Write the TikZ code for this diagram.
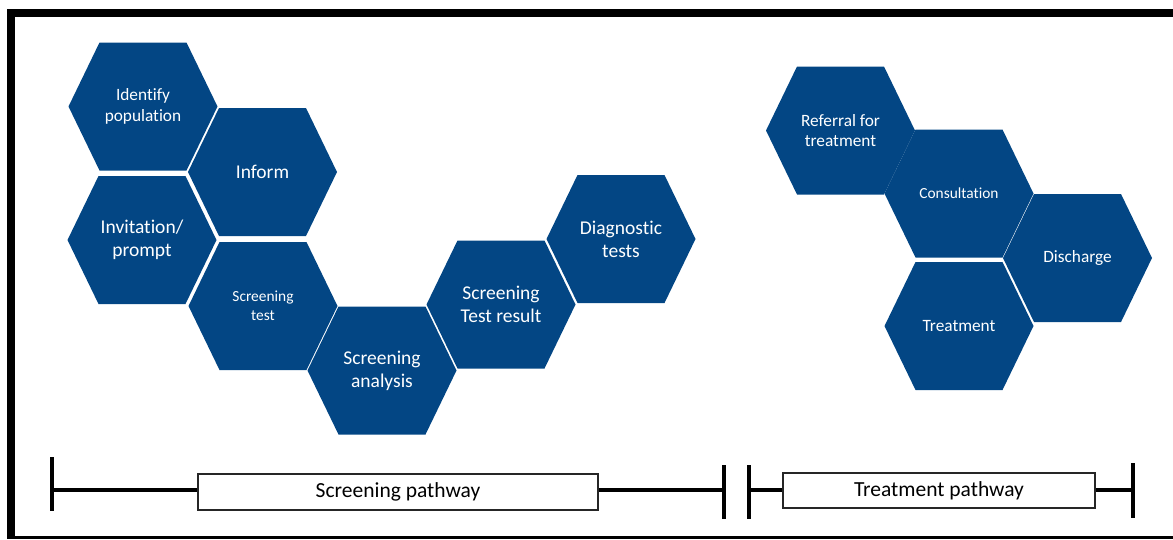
\documentclass[tikz,border=0pt]{standalone}
\usepackage{fontspec}
\setmainfont{Carlito}[Ligatures=NoCommon]
\usetikzlibrary{positioning}

\definecolor{hexblue}{RGB}{3,70,132}

% Label sizes inside the cells.
\newcommand{\hexbig}{\fontsize{19.5}{23}\selectfont}
\newcommand{\hexmid}{\fontsize{17.3}{20.5}\selectfont}
\newcommand{\hexsmall}{\fontsize{15.4}{18.5}\selectfont}

\tikzset{
    hexlabel/.style={align=center, text=white, inner sep=0pt},
    pathbox/.style={draw=black!85, line width=1.3pt, fill=white, inner sep=0pt,
        font=\fontsize{21.5}{24}\selectfont},
    barline/.style={line width=4.5pt},
    endtick/.style={line width=4.5pt}
}

% One cell: name, centre, font, text.
\newcommand{\hexcell}[4]{%
    \fill[hexblue, shift={(#2)}] (-74.5,0) -- (-43.5,-64) -- (43.5,-64)
        -- (74.5,0) -- (43.5,64) -- (-43.5,64) -- cycle;
    \node[hexlabel, font=#3] (#1) at (#2) {#4};
}

\begin{document}
\begin{tikzpicture}[x=1pt, y=-1pt]
    \useasboundingbox (0,0) rectangle (1173,539);

    % Frame.
    \draw[line width=8pt] (7,13) -- (1173,13);
    \draw[line width=8pt] (11,9) -- (11,539);
    \draw[line width=3pt] (7,537.5) -- (1173,537.5);

    % Screening cells.
    \hexcell{ident}{143,106.5}{\hexmid}{Identify\\population}
    \hexcell{inform}{262.5,172}{\hexbig}{Inform}
    \hexcell{invite}{142,240}{\hexbig}{Invitation/\\prompt}
    \hexcell{scrtest}{263,306}{\hexsmall}{Screening\\test}
    \hexcell{analysis}{382,370.5}{\hexbig}{Screening\\analysis}
    \hexcell{result}{501,304.5}{\hexbig}{Screening\\Test result}
    \hexcell{diag}{621,239}{\hexbig}{Diagnostic\\tests}

    % Treatment cells.
    \hexcell{referral}{840.5,130.5}{\hexmid}{Referral for\\treatment}
    \hexcell{consult}{959,193.5}{\hexsmall}{Consultation}
    \hexcell{discharge}{1077.5,258}{\hexmid}{Discharge}
    \hexcell{treat}{959,326}{\hexmid}{Treatment}

    % Pathway bars.
    \node[pathbox, minimum width=400pt, minimum height=36pt] (screenbox) at (398,492) {Screening pathway};
    \node[pathbox, minimum width=312pt, minimum height=35pt] (treatbox) at (939,490.5) {Treatment pathway};

    \coordinate (sL) at (52,490);
    \coordinate (sR) at (724,490);
    \coordinate (tL) at (749,490);
    \coordinate (tR) at (1133,490);

    \draw[barline] (sL) -- (sL -| screenbox.west);
    \draw[barline] (sR -| screenbox.east) -- (sR);
    \draw[barline] (tL) -- (tL -| treatbox.west);
    \draw[barline] (tR -| treatbox.east) -- (tR);

    % End ticks.
    \draw[endtick] (sL) ++(0,-33) -- ++(0,54);
    \draw[endtick] (sR) ++(0,-25) -- ++(0,54);
    \draw[endtick] (tL) ++(0,-25) -- ++(0,54);
    \draw[endtick] (tR) ++(0,-27) -- ++(0,55);
\end{tikzpicture}
\end{document}
